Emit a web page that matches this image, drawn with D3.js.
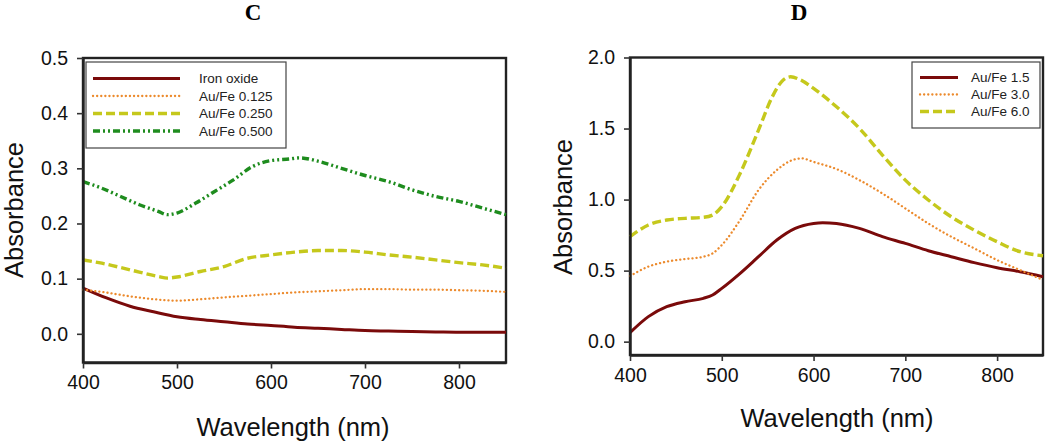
<!DOCTYPE html>
<html><head><meta charset="utf-8">
<script src="https://cdn.jsdelivr.net/npm/d3@7"></script>
<style>body{margin:0;background:#fff;} svg{display:block;}</style>
</head><body>
<svg id="chart" width="1050" height="445"></svg>
<script>
// ---------- Panel C data ----------
const cIronX = [400,425,450,475,500,525,550,575,600,625,650,675,700,725,750,775,800,825,850];
const cIronY = [0.083,0.065,0.050,0.040,0.031,0.026,0.022,0.018,0.015,0.012,0.010,0.008,0.006,0.005,0.004,0.0035,0.003,0.003,0.003];
const c125X = [400,420,450,480,500,520,550,575,600,625,650,675,700,725,750,775,800,825,850];
const c125Y = [0.080,0.076,0.068,0.062,0.060,0.062,0.066,0.069,0.072,0.075,0.077,0.079,0.081,0.081,0.080,0.080,0.079,0.078,0.076];
const c250X = [400,420,450,480,490,500,525,550,575,600,625,650,675,700,725,750,775,800,825,850];
const c250Y = [0.134,0.128,0.116,0.104,0.101,0.103,0.113,0.122,0.137,0.143,0.148,0.151,0.151,0.148,0.143,0.139,0.134,0.129,0.125,0.119];
const c500X = [400,420,440,460,480,490,500,520,540,560,580,600,620,630,650,675,700,725,750,775,800,825,850];
const c500Y = [0.276,0.264,0.249,0.234,0.222,0.216,0.219,0.237,0.258,0.279,0.303,0.314,0.317,0.319,0.313,0.300,0.287,0.276,0.261,0.249,0.240,0.228,0.216];
const cLegend = ["Iron oxide","Au/Fe 0.125","Au/Fe 0.250","Au/Fe 0.500"];
const cYTicks = [0.0,0.1,0.2,0.3,0.4,0.5];
// ---------- Panel D data ----------
const d15X = [400,420,440,460,480,490,500,520,540,560,580,600,610,625,650,675,700,725,750,775,800,825,850];
const d15Y = [0.063,0.176,0.246,0.281,0.305,0.328,0.375,0.481,0.598,0.715,0.797,0.832,0.837,0.832,0.797,0.739,0.692,0.640,0.598,0.556,0.520,0.492,0.457];
const d30X = [400,420,440,460,480,490,500,520,540,560,575,587,600,625,650,675,700,725,750,775,800,825,850];
const d30Y = [0.462,0.528,0.563,0.581,0.598,0.621,0.680,0.856,1.067,1.208,1.273,1.290,1.265,1.215,1.137,1.043,0.938,0.832,0.739,0.657,0.574,0.504,0.434];
const d60X = [400,420,440,460,480,490,500,520,540,555,565,575,585,600,625,650,675,700,725,750,775,800,825,850];
const d60Y = [0.739,0.821,0.856,0.868,0.875,0.891,0.950,1.184,1.489,1.723,1.829,1.864,1.845,1.782,1.653,1.501,1.313,1.137,0.997,0.879,0.785,0.703,0.633,0.605];
const dLegend = ["Au/Fe 1.5","Au/Fe 3.0","Au/Fe 6.0"];
const dYTicks = [0.0,0.5,1.0,1.5,2.0];
const xTicks = [400,500,600,700,800];

const styles = {
  red:   {color:"#7a0a0a", width:3, dash:null, cap:"butt"},
  orange:{color:"#ec8a2c", width:2.3, dash:"0.1,4", cap:"round"},
  yellow:{color:"#c5c81c", width:3.4, dash:"9,4", cap:"butt"},
  green: {color:"#1e8c1e", width:3.4, dash:"7,3,2,3,2,3", cap:"butt"}
};

const svg = d3.select("#chart");
const FONT = "'Liberation Sans', Arial, sans-serif";

function panel(cfg){
  const g = svg.append("g");
  const x = d3.scaleLinear().domain([400,850]).range([cfg.left, cfg.right]);
  const y = d3.scaleLinear().domain(cfg.yDomain).range([cfg.bottom, cfg.top]);
  const [x0,x1] = x.range(), [y0,y1] = y.range();
  // plot-area box, styled like the legend box (white fill, dark stroke)
  g.append("rect").attr("x",x0).attr("y",y1).attr("width",x1-x0).attr("height",y0-y1)
    .attr("fill","#fff").attr("stroke","#222").attr("stroke-width",2.4);
  // series
  const line = d3.line().x(d=>x(d[0])).y(d=>y(d[1])).curve(d3.curveMonotoneX);
  cfg.series.forEach(s=>{
    const pts = s.xs.map((v,i)=>[v, s.ys[i]]);
    const st = styles[s.style];
    const p = g.append("path").attr("d", line(pts)).attr("fill","none")
      .attr("stroke", st.color).attr("stroke-width", st.width)
      .attr("stroke-linecap", st.cap);
    if (st.dash) p.attr("stroke-dasharray", st.dash);
  });
  // axes
  const ax = g.append("g").attr("transform",`translate(0,${cfg.bottom})`)
    .call(d3.axisBottom(x).tickValues(xTicks).tickSize(6).tickSizeOuter(0).tickPadding(7).tickFormat(d3.format("d")));
  const ay = g.append("g").attr("transform",`translate(${cfg.left},0)`)
    .call(d3.axisLeft(y).tickValues(cfg.yTicks).tickSize(6).tickSizeOuter(0).tickPadding(9).tickFormat(d3.format(".1f")));
  [ax,ay].forEach(a=>{
    a.select(".domain").attr("stroke","#222").attr("stroke-width",2.4).attr("fill","none");
    a.selectAll(".tick line").attr("stroke","#333").attr("stroke-width",1.6);
    a.selectAll("text").attr("font-family",FONT).attr("font-size",19.5).attr("fill","#111");
  });
  // axis titles
  g.append("text").attr("x",cfg.xTitle[0]).attr("y",cfg.xTitle[1]).attr("text-anchor","middle")
    .attr("font-family",FONT).attr("font-size",25.5).attr("fill","#111").text("Wavelength (nm)");
  g.append("text").attr("transform",`translate(${cfg.yTitle[0]},${cfg.yTitle[1]}) rotate(-90)`)
    .attr("text-anchor","middle").attr("font-family",FONT).attr("font-size",25.5).attr("fill","#111").text("Absorbance");
  // panel letter
  g.append("text").attr("x",cfg.letter[0]).attr("y",cfg.letter[1]).attr("text-anchor","middle")
    .attr("font-family","'Liberation Serif','Times New Roman',serif").attr("font-weight","bold")
    .attr("font-size",23).attr("fill","#000").text(cfg.letterText);
  // legend
  const L = cfg.legend;
  g.append("rect").attr("x",L.x).attr("y",L.y).attr("width",L.w).attr("height",L.h)
    .attr("fill","#fff").attr("stroke","#444").attr("stroke-width",1.2);
  cfg.series.forEach((s,i)=>{
    const st = styles[s.style];
    const yy = L.rows[i];
    const ln = g.append("line").attr("x1",L.lx1).attr("x2",L.lx2).attr("y1",yy).attr("y2",yy)
      .attr("stroke",st.color).attr("stroke-width",st.width).attr("stroke-linecap",st.cap);
    if (st.dash) ln.attr("stroke-dasharray",st.dash);
    g.append("text").attr("x",L.tx).attr("y",yy).attr("dy","0.36em")
      .attr("font-family",FONT).attr("font-size",13.5).attr("fill","#222").text(L.labels[i]);
  });
}

panel({
  left:83, right:506, top:58, bottom:362.5, yDomain:[-0.052,0.5], yTicks:cYTicks,
  series:[
    {xs:cIronX, ys:cIronY, style:"red"},
    {xs:c125X, ys:c125Y, style:"orange"},
    {xs:c250X, ys:c250Y, style:"yellow"},
    {xs:c500X, ys:c500Y, style:"green"}
  ],
  xTitle:[293,436], yTitle:[23,210], letter:[253,20], letterText:"C",
  legend:{x:86,y:62,w:200,h:86,lx1:93,lx2:180,tx:199,rows:[78.5,96,113.5,131],labels:cLegend}
});

panel({
  left:630, right:1043, top:57.5, bottom:355, yDomain:[-0.094,2.0], yTicks:dYTicks,
  series:[
    {xs:d15X, ys:d15Y, style:"red"},
    {xs:d30X, ys:d30Y, style:"orange"},
    {xs:d60X, ys:d60Y, style:"yellow"}
  ],
  xTitle:[837,427], yTitle:[572,207], letter:[799,20], letterText:"D",
  legend:{x:912,y:62,w:128,h:66,lx1:920,lx2:958,tx:971,rows:[77.5,94.5,111.5],labels:dLegend}
});
</script>
</body></html>
